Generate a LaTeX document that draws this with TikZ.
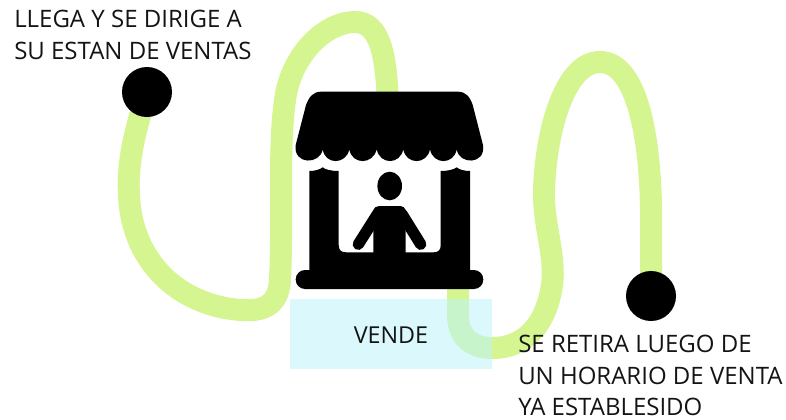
\documentclass[tikz,border=0pt]{standalone}
\usepackage{fontspec}
\setmainfont{Open Sans}
\definecolor{pathgreen}{RGB}{212,245,143}
\definecolor{boxblue}{RGB}{190,244,251}
\tikzset{
  x=0.75pt,y=-0.75pt,
  dot/.style={circle,fill=black,minimum size=37.5pt,inner sep=0pt},
  label/.style={font=\fontsize{18}{24}\selectfont,inner sep=0pt,align=left,anchor=north west,text=black!92},
  route/.style={draw=pathgreen,line width=16.5pt,line cap=butt},
  boxlabel/.style={font=\fontsize{17.5}{24}\selectfont,inner sep=0pt,anchor=base,text=black!92},
}
\begin{document}
\begin{tikzpicture}
\useasboundingbox (0,0) rectangle (786,419);
\coordinate (start) at (147,92);
\coordinate (end) at (651,296);
% route
\draw[route] (start) .. controls (136,128) and (127,160) .. (129,195)
  .. controls (131,250) and (165,296) .. (225,308)
  .. controls (255,313) and (278,312) .. (280,280)
  .. controls (283,220) and (278,150) .. (285,100)
  .. controls (291,55) and (325,22) .. (355,22)
  .. controls (380,22) and (387,55) .. (388,110)
  -- (388,150);
\draw[route] (458,270) -- (458,315)
  .. controls (458,340) and (475,348) .. (492,348)
  .. controls (525,348) and (546,325) .. (552,285)
  .. controls (556,255) and (543,225) .. (544,190)
  .. controls (546,130) and (565,62) .. (600,62)
  .. controls (635,62) and (650,130) .. (651,210)
  -- (end);
% box over route
\node[fill=boxblue,fill opacity=.55,minimum width=151.5pt,minimum height=52.5pt,inner sep=0pt,anchor=north west] (box) at (290,299) {};
\node[boxlabel] (vende) at (391,343) {VENDE};
% dots
\node[dot] (startdot) at (start) {};
\node[dot] (enddot) at (end) {};
% stall roof
\fill[black] (321,91.7) -- (458,91.7) .. controls (466,91.7) and (470,97) .. (472.7,105)
  -- (483,145)
  .. controls (486,165) and (459,165) .. (456.7,149.3)
  .. controls (454,165) and (433,165) .. (430,149.3)
  .. controls (427,165) and (406,165) .. (403.3,149.3)
  .. controls (400,165) and (380,165) .. (376.7,149.3)
  .. controls (373,165) and (352,165) .. (349.3,149.3)
  .. controls (346,165) and (325,165) .. (322.7,149.3)
  .. controls (320,165) and (293,165) .. (295.7,145)
  -- (306,105) .. controls (309,97) and (313,91.7) .. (321,91.7) -- cycle;
% stall body
\fill[black] (309.3,171) .. controls (315,171) and (320,169.5) .. (322.7,167.3)
  .. controls (325,169.5) and (331,171) .. (338.7,171)
  -- (338.7,245) .. controls (338.7,250) and (341,252.3) .. (346,252.3)
  -- (433.5,252.3) .. controls (438.5,252.3) and (440.7,250) .. (440.7,245)
  -- (440.7,171) .. controls (448,171) and (454,169.5) .. (456.7,167.3)
  .. controls (459,169.5) and (464,171) .. (470,171)
  -- (470,275) -- (309.3,275) -- cycle;
\fill[black,rounded corners=7pt] (295.7,270) rectangle (483.3,289);
% person
\fill[black] (389.7,186) ellipse[x radius=12.3,y radius=14.3];
\fill[black] (379,206) -- (400.5,206) .. controls (403,206) and (405,208) .. (405.7,210)
  -- (405.7,253) -- (373.3,253) -- (373.3,210) .. controls (374,208) and (376,206) .. (379,206) -- cycle;
\draw[black,line width=8.5pt,line cap=round] (377.5,214) -- (358.3,244.3);
\draw[black,line width=8.5pt,line cap=round] (401.9,214) -- (420.7,244.3);
% texts
\node[label] (t1) at (14,10) {LLEGA Y SE DIRIGE A\\SU ESTAN DE VENTAS};
\node[label] (t2) at (518,335) {SE RETIRA LUEGO DE\\[-0.5pt]UN HORARIO DE VENTA\\[-0.5pt]YA ESTABLESIDO};
\end{tikzpicture}
\end{document}
